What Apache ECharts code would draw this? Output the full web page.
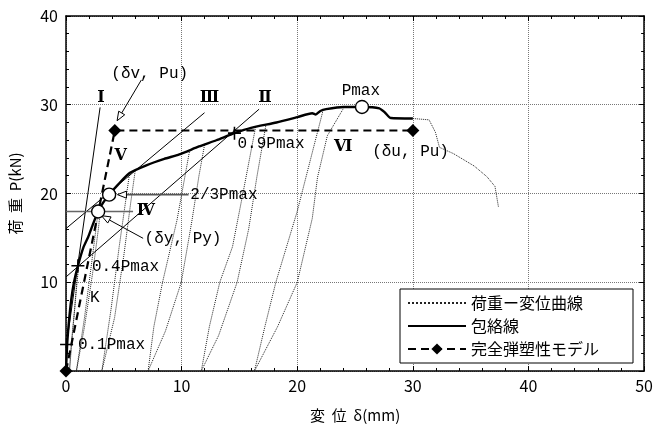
<!DOCTYPE html>
<html>
<head>
<meta charset="utf-8">
<script src="https://cdn.jsdelivr.net/npm/echarts@6/dist/echarts.min.js"></script>
<style>
  html, body { margin: 0; padding: 0; background: #fff; }
  #main { width: 656px; height: 428px; }
</style>
</head>
<body>
<div id="main"></div>
<script>
// ---- data (displacement mm, load kN) ----
var envelope = [[0, 0], [0.1, 2.98], [0.25, 5.5], [0.45, 8], [0.69, 10], [1.03, 11.85], [1.5, 13.9],
  [1.92, 15.1], [2.35, 16.6], [2.78, 17.97], [3.2, 18.95], [3.73, 19.87], [4.5, 21.0], [5.5, 22.3],
  [7, 23.2], [8.5, 23.9], [9.8, 24.4], [11.5, 25.3], [13, 26.0], [14.57, 26.8], [16, 27.4],
  [18.2, 28.0], [20, 28.6], [21.3, 29.05], [21.6, 28.9], [22, 29.3], [22.5, 29.5], [24, 29.75],
  [25.6, 29.75], [27.1, 29.6], [27.6, 29.1], [28.1, 28.5], [30, 28.45]];

var loopA = [[1.03, 11.85], [0.75, 7], [0.45, 3], [0.3, 0], [0.55, 4], [0.85, 8.5], [1.1, 11.9]];
var loopB = [[2.78, 17.97], [2.2, 12], [1.6, 6], [0.9, 0], [1.6, 5], [2.3, 11], [2.8, 16], [3.0, 18.4]];
var loopC = [[5.5, 22.3], [4.6, 14], [3.9, 7], [3.1, 0], [4.2, 6], [5.0, 13], [5.6, 19], [6.0, 22.7]];
var loopD = [[10.7, 24.9], [9.6, 17], [8.35, 10], [7.6, 5], [7.1, 0], [8.6, 4.5], [9.97, 10], [10.9, 17], [11.5, 22], [12, 25.6]];
var loopE = [[16.4, 27.5], [15.3, 20], [14.4, 14], [13.3, 10], [12.4, 5], [11.7, 0], [13.2, 4], [14.8, 10], [15.8, 16], [16.5, 21.8], [17.3, 27.8]];
var loopF = [[22.2, 29.2], [20, 18], [18.15, 10], [17.2, 5], [16.3, 0], [18.3, 5], [20, 10], [21.3, 17.2], [21.75, 21.8], [22.6, 26.5], [24, 29.6]];
var tail = [[30, 28.45], [31.4, 28.3], [31.95, 26.9], [32.3, 25.2], [33.5, 24.5], [35.3, 23.1], [36.4, 21.9], [37.1, 20.8], [37.4, 18.5]];

var model = [[0, 0], [4.22, 27.1], [30, 27.1]];

var lineI = [[0, 2.6], [2.95, 29.7]];
var lineII = [[0, 10.6], [16.7, 29.5]];
var lineIII = [[0, 16.05], [11.98, 29.1]];
var lineIV = [[0, 17.97], [5.8, 17.97]];

var crossPts = [[0.05, 2.98], [1.03, 11.85], [14.57, 26.8]];
var circlePts = [[2.78, 17.97], [3.73, 19.87], [25.6, 29.75]];

// arrows: from label to point
var arrows = [[6.52, 32.8, 4.42, 28.2], [10.6, 19.87, 4.45, 19.87], [6.67, 14.95, 3.07, 17.5]];
var arrowColor = ['#000', '#555', '#000'];

var labelText = ['Pmax', '0.9Pmax', '(δu, Pu)', '2/3Pmax', '(δy, Py)', '0.4Pmax', 'K', '0.1Pmax', '(δv, Pu)'];
var labelX = [25.5, 14.83, 29.8, 10.75, 6.8, 2.24, 2.5, 1.03, 7.24];
var labelY = [31.6, 25.6, 24.75, 19.9, 14.9, 11.8, 8.3, 2.9, 33.5];
var labelAlign = ['center', 'left', 'center', 'left', 'left', 'left', 'center', 'left', 'center'];

var romanText = ['Ⅰ', 'Ⅲ', 'Ⅱ', 'Ⅳ', 'Ⅴ', 'Ⅵ'];
var romanX = [3.02, 12.4, 17.2, 6.9, 4.74, 23.97];
var romanY = [30.8, 30.8, 30.8, 18.1, 24.2, 25.3];

var xTicks = [0, 50, 10];
var yTicks = [0, 40, 10];

var FONT = '"Noto Sans CJK JP", "Noto Sans", sans-serif';

var chart = echarts.init(document.getElementById('main'));

function dotted(d) {
  return {
    name: '荷重ー変位曲線', type: 'line', data: d, symbol: 'none', z: 2,
    itemStyle: { color: '#222' },
    lineStyle: { type: 'dotted', color: '#222', width: 1 }, silent: true
  };
}
function thin(d, c, w) {
  return {
    type: 'line', data: d, symbol: 'none', z: 3,
    lineStyle: { color: c, width: w }, silent: true
  };
}
function textSeries(texts, xs, ys, aligns, font, z) {
  return {
    type: 'custom', coordinateSystem: 'cartesian2d', clip: false, z: z, silent: true,
    data: texts.map(function (t, i) { return [xs[i], ys[i], i]; }),
    encode: { x: 0, y: 1 },
    renderItem: function (params, api) {
      var i = api.value(2);
      var p = api.coord([api.value(0), api.value(1)]);
      return {
        type: 'text', x: p[0], y: p[1],
        style: {
          text: texts[i], fill: '#000', font: font,
          align: aligns ? aligns[i] : 'center', verticalAlign: 'middle'
        }
      };
    }
  };
}

var frameX = {
  type: 'value', min: xTicks[0], max: xTicks[1], interval: xTicks[2],
  axisLine: { show: true, onZero: false, lineStyle: { color: '#000', width: 1.5 } },
  axisTick: { show: true, inside: true, length: 5, lineStyle: { color: '#000' } },
  minorTick: { show: true, splitNumber: 5, length: 3, lineStyle: { color: '#000' } },
  splitLine: { show: false }
};
var frameY = {
  type: 'value', min: yTicks[0], max: yTicks[1], interval: yTicks[2],
  axisLine: { show: true, onZero: false, lineStyle: { color: '#000', width: 1.5 } },
  axisTick: { show: true, inside: true, length: 5, lineStyle: { color: '#000' } },
  minorTick: { show: true, splitNumber: 5, length: 3, lineStyle: { color: '#000' } },
  splitLine: { show: false }
};

var option = {
  animation: false,
  backgroundColor: '#fff',
  textStyle: { fontFamily: FONT },
  grid: { left: 66, right: 10, top: 16, bottom: 51 },
  legend: {
    data: [
      { name: '荷重ー変位曲線', itemStyle: { opacity: 0 } },
      { name: '包絡線', itemStyle: { opacity: 0 } },
      { name: '完全弾塑性モデル' }
    ],
    orient: 'vertical', left: 400, top: 289,
    backgroundColor: '#fff', borderColor: '#000', borderWidth: 1,
    padding: [6, 34, 6, 7], itemGap: 7, itemHeight: 14, itemWidth: 58,
    textStyle: { fontSize: 16, color: '#000', fontFamily: FONT }
  },
  xAxis: [
    Object.assign({}, frameX, {
      position: 'bottom',
      name: '変  位  δ(mm)', nameLocation: 'middle', nameGap: 37,
      nameTextStyle: { fontSize: 15, color: '#000', fontFamily: FONT },
      axisLabel: { fontSize: 16, color: '#000', margin: 7, fontFamily: FONT },
      splitLine: { show: true, lineStyle: { type: 'dotted', color: '#777', width: 1 } }
    }),
    Object.assign({}, frameX, { position: 'top', axisLabel: { show: false } })
  ],
  yAxis: [
    Object.assign({}, frameY, {
      position: 'left',
      name: '荷  重  P(kN)', nameLocation: 'middle', nameGap: 43, nameRotate: 90,
      nameTextStyle: { fontSize: 15, color: '#000', fontFamily: FONT },
      axisLabel: {
        fontSize: 16, color: '#000', margin: 8, fontFamily: FONT,
        formatter: function (v) { return v === 0 ? '' : v; }
      },
      splitLine: { show: true, lineStyle: { type: 'dotted', color: '#777', width: 1 } }
    }),
    Object.assign({}, frameY, { position: 'right', axisLabel: { show: false } })
  ],
  series: [
    dotted(loopA), dotted(loopB), dotted(loopC), dotted(loopD), dotted(loopE), dotted(loopF), dotted(tail),
    thin(lineI, '#000', 1), thin(lineII, '#000', 1), thin(lineIII, '#000', 1), thin(lineIV, '#666', 1.6),
    {
      name: '包絡線', type: 'line', data: envelope, symbol: 'none', smooth: 0.2, z: 5,
      itemStyle: { color: '#000' },
      lineStyle: { color: '#000', width: 2.4 }, silent: true
    },
    {
      name: '完全弾塑性モデル', type: 'line', data: model, symbol: 'diamond', symbolSize: 13,
      showSymbol: true, clip: false, z: 6,
      lineStyle: { color: '#000', width: 2.2, type: [8, 5] },
      itemStyle: { color: '#000' }, silent: true
    },
    {
      type: 'custom', coordinateSystem: 'cartesian2d', clip: false, z: 7, silent: true,
      data: arrows.map(function (a, i) { return a.concat([i]); }),
      encode: { x: [0, 2], y: [1, 3] },
      renderItem: function (params, api) {
        var a = api.coord([api.value(0), api.value(1)]);
        var b = api.coord([api.value(2), api.value(3)]);
        var ang = Math.atan2(b[1] - a[1], b[0] - a[0]);
        var L = 9, W = 3.5;
        var bx = b[0] - L * Math.cos(ang), by = b[1] - L * Math.sin(ang);
        var nx = -Math.sin(ang) * W, ny = Math.cos(ang) * W;
        var c = arrowColor[api.value(4)];
        return {
          type: 'group', children: [
            { type: 'line', shape: { x1: a[0], y1: a[1], x2: bx, y2: by }, style: { stroke: c, lineWidth: c === '#000' ? 1 : 1.6 } },
            { type: 'polygon', shape: { points: [[b[0], b[1]], [bx + nx, by + ny], [bx - nx, by - ny]] }, style: { fill: '#fff', stroke: '#000', lineWidth: 1 } }
          ]
        };
      }
    },
    {
      type: 'scatter', data: crossPts, symbol: 'path://M0,4.4H10V5.6H0Z M4.4,0H5.6V10H4.4Z',
      symbolSize: 13, clip: false, z: 8, itemStyle: { color: '#000', opacity: 1 }, silent: true
    },
    {
      type: 'scatter', data: circlePts, symbol: 'circle', symbolSize: 13, clip: false, z: 9,
      itemStyle: { color: '#fff', borderColor: '#000', borderWidth: 1.4, opacity: 1 }, silent: true
    },
    textSeries(labelText, labelX, labelY, labelAlign, '16px "Liberation Mono", monospace', 10),
    textSeries(romanText, romanX, romanY, null, 'bold 16px "DejaVu Serif", serif', 10)
  ]
};

chart.setOption(option);
</script>
</body>
</html>
